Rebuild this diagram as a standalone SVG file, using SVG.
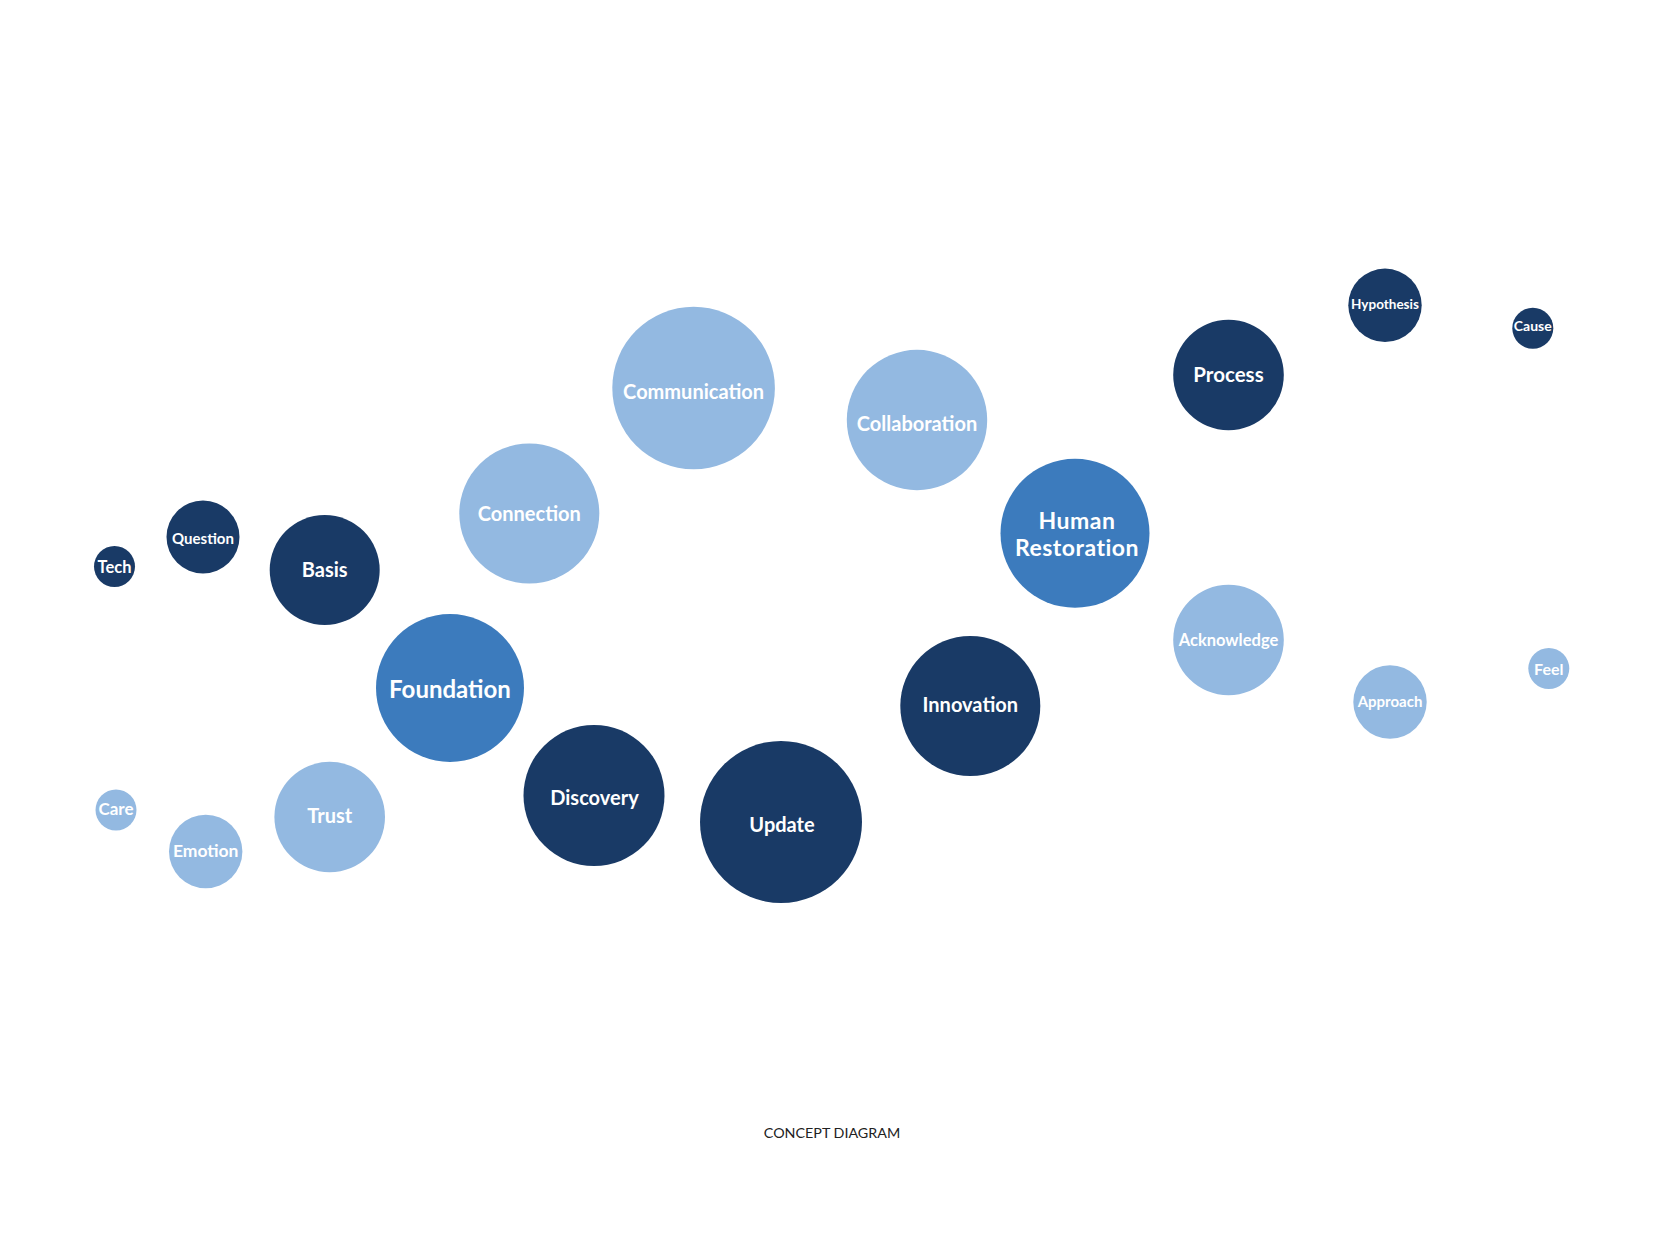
<svg xmlns="http://www.w3.org/2000/svg" width="1669" height="1252" viewBox="0 0 1669 1252">
<style>
.dark{fill:#193a66}
.mid{fill:#3c7bbd}
.light{fill:#93b9e1}
.lbl{fill:#ffffff;font-family:Lato,"Open Sans","Liberation Sans",sans-serif;font-weight:700;text-anchor:middle}
.cap{fill:#222222;font-family:Lato,"Open Sans","Liberation Sans",sans-serif;font-size:14.3px;text-anchor:middle}
</style>
<rect width="1669" height="1252" fill="#ffffff"/>
<g id="connectors"></g>
<g id="nodes">
<g id="tech"><circle class="dark" cx="114.5" cy="566.5" r="20.5"/><text class="lbl" x="114.5" y="573.3" font-size="16.5">Tech</text></g>
<g id="question"><circle class="dark" cx="203" cy="537" r="36.5"/><text class="lbl" x="203" y="544" font-size="15">Question</text></g>
<g id="basis"><circle class="dark" cx="324.7" cy="570" r="55"/><text class="lbl" x="324.7" y="577" font-size="20">Basis</text></g>
<g id="foundation"><circle class="mid" cx="450" cy="688" r="74"/><text class="lbl" x="450" y="698" font-size="24">Foundation</text></g>
<g id="care"><circle class="light" cx="116" cy="810" r="20.5"/><text class="lbl" x="116" y="815" font-size="17">Care</text></g>
<g id="emotion"><circle class="light" cx="205.7" cy="851.5" r="36.7"/><text class="lbl" x="205.7" y="857.3" font-size="17.5">Emotion</text></g>
<g id="trust"><circle class="light" cx="329.7" cy="817" r="55.3"/><text class="lbl" x="329.7" y="822.7" font-size="20">Trust</text></g>
<g id="connection"><circle class="light" cx="529.3" cy="513.5" r="70"/><text class="lbl" x="529.3" y="521" font-size="20">Connection</text></g>
<g id="communication"><circle class="light" cx="693.6" cy="388" r="81.3"/><text class="lbl" x="693.6" y="399.3" font-size="20">Communication</text></g>
<g id="discovery"><circle class="dark" cx="594" cy="795.5" r="70.5"/><text class="lbl" x="594.5" y="805" font-size="20">Discovery</text></g>
<g id="update"><circle class="dark" cx="781" cy="822" r="81"/><text class="lbl" x="782" y="832.3" font-size="20">Update</text></g>
<g id="innovation"><circle class="dark" cx="970.3" cy="706" r="70"/><text class="lbl" x="970.3" y="711.7" font-size="20">Innovation</text></g>
<g id="collaboration"><circle class="light" cx="917" cy="420" r="70.2"/><text class="lbl" x="917" y="431" font-size="20">Collaboration</text></g>
<g id="human-restoration"><circle class="mid" cx="1075" cy="533.3" r="74.5"/><text class="lbl" x="1077" y="529.3" font-size="23" letter-spacing="0.5">Human</text><text class="lbl" x="1077" y="556" font-size="23" letter-spacing="0.5">Restoration</text></g>
<g id="process"><circle class="dark" cx="1228.5" cy="375" r="55.3"/><text class="lbl" x="1228.5" y="382.3" font-size="20.5">Process</text></g>
<g id="acknowledge"><circle class="light" cx="1228.5" cy="640" r="55.3"/><text class="lbl" x="1228.5" y="646" font-size="16.5">Acknowledge</text></g>
<g id="hypothesis"><circle class="dark" cx="1385" cy="305.3" r="36.7"/><text class="lbl" x="1385" y="309.3" font-size="13.5">Hypothesis</text></g>
<g id="cause"><circle class="dark" cx="1532.8" cy="328.2" r="20.5"/><text class="lbl" x="1532.8" y="331" font-size="14">Cause</text></g>
<g id="approach"><circle class="light" cx="1390" cy="702" r="36.7"/><text class="lbl" x="1390" y="706.7" font-size="15">Approach</text></g>
<g id="feel"><circle class="light" cx="1548.8" cy="668.5" r="20.5"/><text class="lbl" x="1548.8" y="675" font-size="16">Feel</text></g>
</g>
<text class="cap" x="832" y="1137.7">CONCEPT DIAGRAM</text>
</svg>
